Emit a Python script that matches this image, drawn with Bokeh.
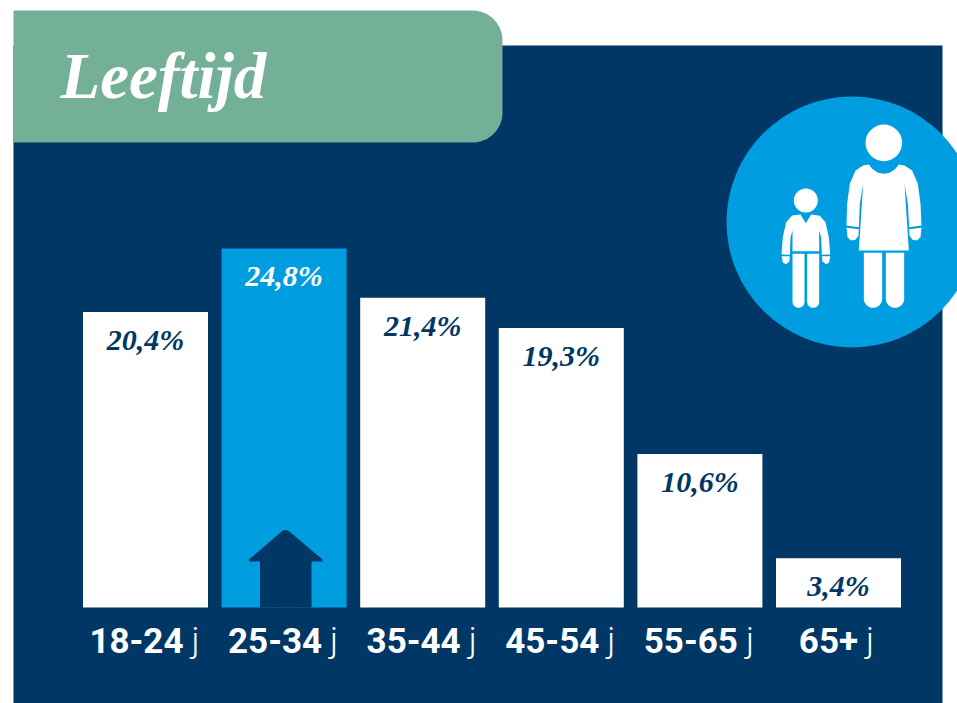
import numpy as np
from bokeh.core.properties import value
from bokeh.embed import file_html
from bokeh.models import ColumnDataSource, Range1d
from bokeh.plotting import figure
from bokeh.resources import INLINE

title_text = "Leeftijd"
age_groups = ["18-24", "25-34", "35-44", "45-54", "55-65", "65+"]
shares = [20.4, 24.8, 21.4, 19.3, 10.6, 3.4]
share_labels = ["20,4%", "24,8%", "21,4%", "19,3%", "10,6%", "3,4%"]
unit_suffix = "j"
highlight = "25-34"

NAVY, GREEN, BLUE, WHITE = "#003764", "#74B097", "#009EE0", "#FFFFFF"
W, H = 957, 703
ORIGIN = 0
X0, XSTEP, BAR_W = 145, 138.6, 125
Y0, YSCALE = 607, 14.48

p = figure(
    width=W, height=H, output_backend="svg", toolbar_location=None,
    x_range=Range1d((ORIGIN - X0) / XSTEP, (ORIGIN + W - X0) / XSTEP),
    y_range=Range1d((Y0 - (ORIGIN + H)) / YSCALE, (Y0 - ORIGIN) / YSCALE),
    x_axis_location=None, y_axis_location=None,
    min_border=0, outline_line_color=None, background_fill_color=WHITE,
    border_fill_color=WHITE,
)
p.grid.visible = False
p.extra_x_ranges["px"] = Range1d(ORIGIN, ORIGIN + W)
p.extra_y_ranges["px"] = Range1d(ORIGIN + H, ORIGIN)
PX = dict(x_range_name="px", y_range_name="px")


def deco(xs, ys, color):
    p.patch(list(xs), list(ys), fill_color=color, line_color=None, **PX)


def arc(cx, cy, r, a0, a1, n=24):
    t = np.radians(np.linspace(a0, a1, n))
    return cx + r * np.cos(t), cy + r * np.sin(t)


# Panels
deco([13, 942, 942, 13], [45, 45, 703, 703], NAVY)
ax1, ay1 = arc(472, 40, 30, -90, 0)
ax2, ay2 = arc(472, 112, 30, 0, 90)
deco([13, *ax1, *ax2, 13], [10, *ay1, *ay2, 142], GREEN)
p.text([60], [75], text=[title_text], text_color=WHITE, text_font=value("Liberation Serif"),
       text_font_style="bold italic", text_font_size="65px", text_baseline="middle", **PX)

# Circle with figures
p.circle([851.5], [221.5], radius=125.5, fill_color=BLUE, line_color=None, **PX)


def zx(v):
    return 720 + np.asarray(v, float) / 3


def zy(v):
    return 90 + np.asarray(v, float) / 3


def zpatch(pts):
    a = np.array(pts, float)
    deco(zx(a[:, 0]), zy(a[:, 1]), WHITE)


def zhead(cx, cy, r):
    p.circle([float(zx(cx))], [float(zy(cy))], radius=r / 3, fill_color=WHITE, line_color=None, **PX)


def zleg(x0, x1, top, bottom):
    r = (x1 - x0) / 2
    t = np.radians(np.linspace(0, 180, 16))
    pts = [(x0, top), (x1, top)] + [((x0 + x1) / 2 + r * np.cos(a), bottom - r + r * np.sin(a)) for a in t]
    zpatch(pts)


zhead(490, 157, 55)
zpatch([(428, 225), (445, 222), (455, 235), (472, 247), (490, 250), (508, 247), (525, 235), (535, 222),
        (552, 225), (575, 240), (592, 280), (600, 340), (603, 405), (566, 410), (562, 340), (552, 280),
        (565, 480), (415, 480), (428, 280), (418, 340), (415, 410), (378, 405), (380, 340), (388, 280),
        (405, 240)])
zpatch([(378, 412), (415, 416), (414, 435), (405, 448), (392, 450), (381, 440)])
zpatch([(566, 416), (603, 412), (600, 440), (589, 450), (576, 448), (567, 435)])
zleg(430, 485, 487, 652)
zleg(496, 551, 487, 652)

zhead(256, 330, 36)
zpatch([(215, 375), (240, 372), (256, 398), (272, 372), (298, 376), (315, 395), (325, 440), (329, 492),
        (304, 493), (302, 440), (296, 420), (296, 482), (216, 482), (216, 420), (210, 440), (208, 493),
        (183, 492), (187, 440), (197, 395)])
zpatch([(183, 497), (208, 497), (207, 512), (197, 521), (187, 516)])
zpatch([(304, 497), (329, 497), (326, 516), (316, 521), (306, 512)])
zleg(216, 252, 490, 652)
zleg(260, 296, 490, 652)

# Bars
idx = list(range(len(age_groups)))
bar_colors = [BLUE if g == highlight else WHITE for g in age_groups]
label_colors = [WHITE if g == highlight else NAVY for g in age_groups]
src = ColumnDataSource(dict(x=idx, top=shares, fill=bar_colors, ink=label_colors, lab=share_labels))
p.vbar(x="x", top="top", bottom=0, width=BAR_W / XSTEP, fill_color="fill", line_color=None, source=src)
p.text(x="x", y="top", text="lab", text_color="ink", source=src, y_offset=27.5,
       text_font=value("Liberation Serif"), text_font_style="bold italic", text_font_size="30px",
       text_align="center", text_baseline="middle")

# House icon
hx, hy = arc(285, 535.5, 6, -130, -50, 8)
deco([248.5, *hx, 322, 322, 311, 311, 259.5, 259.5, 248.5],
     [559, *hy, 559, 561, 561, 607, 607, 561, 561], NAVY)

# Category labels: bold range plus a light unit, centred as a group under each bar
base_y = [(Y0 - 640) / YSCALE] * len(idx)
half = [(len(g) * 18.4 + 8 + 8) / 2 for g in age_groups]
bold_x = [i + (h - 16) / XSTEP for i, h in zip(idx, half)]
unit_x = [i + (h - 8) / XSTEP for i, h in zip(idx, half)]
p.text(bold_x, base_y, text=age_groups, text_color=WHITE, text_font=value("Roboto"),
       text_font_style="bold", text_font_size="35px", text_align="right", text_baseline="middle")
p.text(unit_x, base_y, text=[unit_suffix] * len(idx), text_color=WHITE, text_font=value("Roboto Light"),
       text_font_size="35px", text_align="left", text_baseline="middle")

open("out.html", "w").write(file_html(p, INLINE))
